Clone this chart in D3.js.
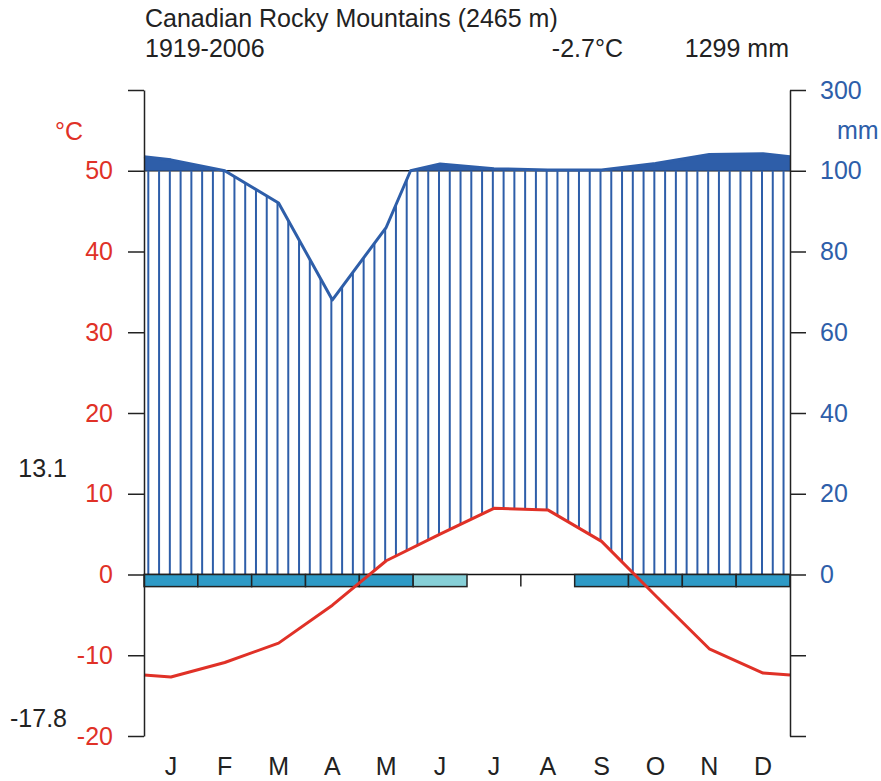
<!DOCTYPE html>
<html>
<head>
<meta charset="utf-8">
<script src="https://cdn.jsdelivr.net/npm/d3@7"></script>
<style>
  body { margin: 0; background: #fff; }
  text { font-family: "Liberation Sans", Arial, sans-serif; }
</style>
</head>
<body>
<div id="chart-area"></div>
<script>
var months = ["J", "F", "M", "A", "M", "J", "J", "A", "S", "O", "N", "D"];
var temp = [-12.7, -10.9, -8.5, -3.8, 1.7, 5.0, 8.2, 8.0, 4.1, -2.6, -9.2, -12.2];
var precip = [127, 100, 92, 68, 86, 117, 105, 102, 102, 118, 140, 142];
// frost boxes: 2 = sure frost, 1 = probable frost, 0 = none
var frost = [2, 2, 2, 2, 2, 1, 0, 0, 2, 2, 2, 2];
var tempTicks = [-20, -10, 0, 10, 20, 30, 40, 50, 60];
var precipTickLabels = { 0: "0", 10: "20", 20: "40", 30: "60", 40: "80", 50: "100", 60: "300" };

var station = "Canadian Rocky Mountains (2465 m)",
    period = "1919-2006",
    meanTemp = "-2.7°C",
    totalPrecip = "1299 mm",
    maxWarm = "13.1",
    minCold = "-17.8";

var width = 881, height = 781;
var blue = "#2e5ea9", red = "#e03127", ink = "#222";

var svg = d3.select("#chart-area").append("svg")
    .attr("width", width)
    .attr("height", height);

var x = d3.scaleLinear().domain([0, 12]).range([144, 790]);
var y = d3.scaleLinear().domain([-20, 60]).range([736, 90]);

// precipitation on the temperature scale: 20 mm = 10 C up to 100 mm, reduced above
function pconv(p) { return p <= 100 ? p / 2 : 50 + (p - 100) / 20; }

// points at month centres, closed at the edges with the Dec/Jan mean
function withEdges(vals) {
    var edge = (vals[0] + vals[11]) / 2;
    var pts = [[0, edge]];
    vals.forEach(function(v, i) { pts.push([i + 0.5, v]); });
    pts.push([12, edge]);
    return pts;
}

function interp(pts, xm) {
    for (var i = 0; i < pts.length - 1; i++) {
        if (xm >= pts[i][0] && xm <= pts[i + 1][0]) {
            var f = (xm - pts[i][0]) / (pts[i + 1][0] - pts[i][0]);
            return pts[i][1] + f * (pts[i + 1][1] - pts[i][1]);
        }
    }
    return pts[pts.length - 1][1];
}

var tPts = withEdges(temp);
var mmPts = withEdges(precip);

// add the 100 mm crossings (found in mm), then convert to the plot scale
var pPts = [];
for (var i = 0; i < mmPts.length; i++) {
    var a = mmPts[i];
    pPts.push([a[0], pconv(a[1])]);
    if (i < mmPts.length - 1) {
        var b = mmPts[i + 1];
        if ((a[1] - 100) * (b[1] - 100) < 0) {
            var f = (100 - a[1]) / (b[1] - a[1]);
            pPts.push([a[0] + f * (b[0] - a[0]), 50]);
        }
    }
}

var line = d3.line()
    .x(function(d) { return x(d[0]); })
    .y(function(d) { return y(d[1]); });

// reference line at 50 C / 100 mm
svg.append("line")
    .attr("x1", x(0)).attr("x2", x(12))
    .attr("y1", y(50)).attr("y2", y(50))
    .attr("stroke", "#111").attr("stroke-width", 1.5);

// humid hatching
var hatch = d3.range(60).map(function(k) { return 0.08 + 0.2 * k; });
svg.append("g").selectAll("line")
    .data(hatch)
    .enter().append("line")
    .attr("x1", function(d) { return x(d); })
    .attr("x2", function(d) { return x(d); })
    .attr("y1", function(d) { return y(Math.max(0, interp(tPts, d))); })
    .attr("y2", function(d) { return y(Math.min(50, pconv(interp(mmPts, d)))); })
    .attr("stroke", blue)
    .attr("stroke-width", 2);

// solid area above 100 mm
svg.append("path")
    .datum(pPts)
    .attr("fill", blue)
    .attr("d", d3.area()
        .x(function(d) { return x(d[0]); })
        .y0(y(50))
        .y1(function(d) { return y(Math.max(50, d[1])); }));

// precipitation line
svg.append("path")
    .datum(pPts)
    .attr("fill", "none")
    .attr("stroke", blue)
    .attr("stroke-width", 3)
    .attr("stroke-linejoin", "round")
    .attr("d", line);

// zero line
svg.append("line")
    .attr("x1", x(0)).attr("x2", x(12))
    .attr("y1", y(0)).attr("y2", y(0))
    .attr("stroke", "#111").attr("stroke-width", 1.5);

// frost boxes
var boxH = y(-1.5) - y(0);
frost.forEach(function(f, i) {
    if (f > 0) {
        svg.append("rect")
            .attr("x", x(i))
            .attr("y", y(0))
            .attr("width", x(i + 1) - x(i))
            .attr("height", boxH)
            .attr("fill", f == 2 ? "#2e9ac6" : "#86cfd7")
            .attr("stroke", "#222")
            .attr("stroke-width", 1.5);
    } else if (i > 0 && frost[i - 1] == 0) {
        svg.append("line")
            .attr("x1", x(i)).attr("x2", x(i))
            .attr("y1", y(0)).attr("y2", y(0) + boxH)
            .attr("stroke", "#222").attr("stroke-width", 1.5);
    }
});

// temperature line
svg.append("path")
    .datum(tPts)
    .attr("fill", "none")
    .attr("stroke", red)
    .attr("stroke-width", 3)
    .attr("stroke-linejoin", "round")
    .attr("d", line);

// axes
var leftAxis = svg.append("g")
    .attr("transform", "translate(" + x(0) + ",0)")
    .call(d3.axisLeft(y)
        .tickValues(tempTicks)
        .tickFormat(function(d) { return d <= 50 ? d : ""; })
        .tickSize(16).tickSizeOuter(0).tickPadding(15));
leftAxis.selectAll("text").attr("fill", red).style("font-size", "25px");

var rightAxis = svg.append("g")
    .attr("transform", "translate(" + x(12) + ",0)")
    .call(d3.axisRight(y)
        .tickValues(tempTicks)
        .tickFormat(function(d) { return precipTickLabels[d] || ""; })
        .tickSize(16).tickSizeOuter(0).tickPadding(14));
rightAxis.selectAll("text").attr("fill", blue).style("font-size", "25px");

svg.selectAll(".domain, .tick line").attr("stroke", "#222").attr("stroke-width", 1.5);

// month labels
svg.append("g").selectAll("text")
    .data(months)
    .enter().append("text")
    .attr("x", function(d, i) { return x(i + 0.5); })
    .attr("y", 775)
    .attr("text-anchor", "middle")
    .attr("fill", ink)
    .style("font-size", "25px")
    .text(function(d) { return d; });

// unit labels
svg.append("text").attr("x", 55).attr("y", 140)
    .attr("fill", red).style("font-size", "25px").text("°C");
svg.append("text").attr("x", 837).attr("y", 139)
    .attr("fill", blue).style("font-size", "25px").text("mm");

// header
svg.append("text").attr("x", 145).attr("y", 27)
    .attr("fill", ink).style("font-size", "25px").text(station);
svg.append("text").attr("x", 145).attr("y", 57)
    .attr("fill", ink).style("font-size", "25px").text(period);
svg.append("text").attr("x", 623).attr("y", 57).attr("text-anchor", "end")
    .attr("fill", ink).style("font-size", "25px").text(meanTemp);
svg.append("text").attr("x", 789).attr("y", 57).attr("text-anchor", "end")
    .attr("fill", ink).style("font-size", "25px").text(totalPrecip);

// extremes
svg.append("text").attr("x", 67).attr("y", y(+maxWarm)).attr("dy", "0.35em")
    .attr("text-anchor", "end").attr("fill", ink).style("font-size", "25px").text(maxWarm);
svg.append("text").attr("x", 67).attr("y", y(+minCold)).attr("dy", "0.35em")
    .attr("text-anchor", "end").attr("fill", ink).style("font-size", "25px").text(minCold);
</script>
</body>
</html>
